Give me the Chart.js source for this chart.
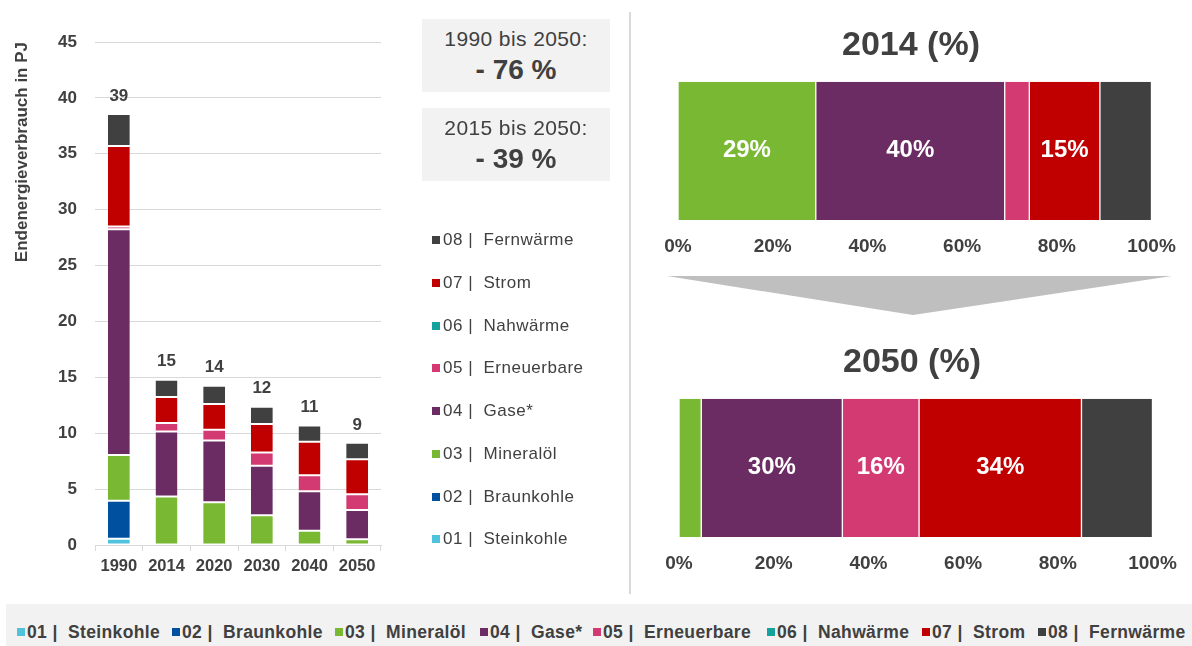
<!DOCTYPE html>
<html>
<head>
<meta charset="utf-8">
<script src="https://cdn.jsdelivr.net/npm/chart.js@4/dist/chart.umd.min.js"></script>
<style>
html,body{margin:0;padding:0;background:#fff;}
body{width:1192px;height:646px;position:relative;overflow:hidden;font-family:"Liberation Sans",Arial,sans-serif;color:#404040;}
canvas{position:absolute;}
.abs{position:absolute;}
.box{position:absolute;left:422px;width:188px;height:73px;background:#f2f2f2;}
.l1{position:absolute;left:0;width:188px;text-align:center;font-size:21px;line-height:24px;letter-spacing:0.4px;white-space:pre;}
.l2{position:absolute;left:0;width:188px;text-align:center;font-size:28px;line-height:32px;font-weight:bold;white-space:pre;}
.mleg{position:absolute;left:443px;font-size:17px;line-height:20px;letter-spacing:0.5px;white-space:pre;}
.msq{position:absolute;left:432px;width:8px;height:8px;}
.band{position:absolute;left:6px;top:604px;width:1186px;height:42px;background:#f2f2f2;}
.bleg{position:absolute;font-size:17.5px;line-height:20px;font-weight:bold;letter-spacing:0.35px;white-space:pre;top:622px;}
.bsq{position:absolute;width:8px;height:8px;top:628px;}
</style>
</head>
<body>
<canvas id="bars" width="400" height="590" style="left:0;top:0;"></canvas>
<div class="abs" style="left:629px;top:12px;width:2px;height:582px;background:#d9d9d9;"></div>
<svg class="abs" style="left:0;top:0;" width="1192" height="646"><polygon points="667,276 1172,276 913,315" fill="#bfbfbf"/></svg>
<canvas id="c2014" width="552" height="262" style="left:640px;top:0;"></canvas>
<canvas id="c2050" width="552" height="262" style="left:641px;top:317px;"></canvas>
<div id="boxes"></div>
<div id="midLegend"></div>
<div class="band"></div>
<div id="botLegend"></div>
<script>
// ---- data ----
const categories = ['1990', '2014', '2020', '2030', '2040', '2050'];
const seriesCodes = ['01', '02', '03', '04', '05', '06', '07', '08'];
const seriesNames = ['Steinkohle', 'Braunkohle', 'Mineralöl', 'Gase*', 'Erneuerbare', 'Nahwärme', 'Strom', 'Fernwärme'];
const seriesColors = ['#4fc3dc', '#0050a0', '#78b832', '#6b2c63', '#d43a72', '#13a29c', '#c00000', '#404040'];

const steinkohle  = [0.55, 0, 0, 0, 0, 0];
const braunkohle  = [3.4, 0, 0, 0, 0, 0];
const mineraloel  = [4.1, 4.33, 3.83, 2.66, 1.28, 0.51];
const gase        = [20.2, 5.83, 5.52, 4.42, 3.53, 2.63];
const erneuerbare = [0.25, 0.75, 0.96, 1.19, 1.44, 1.4];
const nahwaerme   = [0, 0, 0, 0, 0, 0];
const strom       = [7.2, 2.33, 2.3, 2.55, 2.98, 3.14];
const fernwaerme  = [2.85, 1.55, 1.64, 1.55, 1.46, 1.46];
const seriesValues = [steinkohle, braunkohle, mineraloel, gase, erneuerbare, nahwaerme, strom, fernwaerme];

const yTicks = [0, 5, 10, 15, 20, 25, 30, 35, 40, 45];

// shares (%) of the two 100% bars
const share2014 = [0, 0, 29.1, 39.9, 5.2, 0, 14.9, 10.9];
const share2050 = [0, 0, 4.7, 29.8, 16.2, 0, 34.3, 15.0];
const pctLabels2014 = ['', '', '29%', '40%', '', '', '15%', ''];
const pctLabels2050 = ['', '', '', '30%', '16%', '', '34%', ''];
const pctTicks = [0, 20, 40, 60, 80, 100];

const boxTexts = [['1990 bis 2050:', '- 76 %'], ['2015 bis 2050:', '- 39 %']];

// ---- setup ----
const FONT = '"Liberation Sans", Arial, sans-serif';
Chart.defaults.font.family = FONT;
Chart.defaults.color = '#404040';
Chart.defaults.animation = false;

const skipZero = arr => arr.map(v => (v === 0 ? null : v));

const totalsPlugin = {
  id: 'totals',
  afterDatasetsDraw(chart) {
    const {ctx, scales: {x, y}} = chart;
    ctx.save();
    ctx.font = 'bold 17px ' + FONT;
    ctx.fillStyle = '#404040';
    ctx.textAlign = 'center';
    ctx.textBaseline = 'middle';
    categories.forEach((c, i) => {
      const total = chart.data.datasets.reduce((s, d) => s + (d.data[i] || 0), 0);
      ctx.fillText(String(Math.round(total)), x.getPixelForValue(i), y.getPixelForValue(total) - 18);
    });
    ctx.restore();
  }
};

new Chart(document.getElementById('bars'), {
  type: 'bar',
  data: {
    labels: categories,
    datasets: seriesNames.map((n, i) => ({
      label: seriesCodes[i] + ' | ' + n,
      data: skipZero(seriesValues[i]),
      backgroundColor: seriesColors[i],
      borderColor: '#ffffff',
      borderWidth: {top: 1, bottom: 1, left: 0, right: 0},
      borderSkipped: false,
      barPercentage: 0.46,
      categoryPercentage: 1.0
    }))
  },
  options: {
    responsive: false,
    devicePixelRatio: 1,
    layout: {padding: {top: 42, right: 19, left: 0, bottom: 0}},
    plugins: {legend: {display: false}, tooltip: {enabled: false}},
    scales: {
      x: {
        stacked: true,
        offset: true,
        grid: {display: true, drawOnChartArea: false, drawTicks: true, tickLength: 6, color: '#d9d9d9', offset: true},
        border: {display: true, color: '#d9d9d9', width: 1},
        ticks: {padding: 6, font: {size: 16.5, weight: 'bold'}, color: '#404040'},
        afterFit: s => { s.height = 45; }
      },
      y: {
        stacked: true,
        min: yTicks[0],
        max: yTicks[yTicks.length - 1],
        afterBuildTicks: s => { s.ticks = yTicks.map(v => ({value: v})); },
        ticks: {padding: 18, font: {size: 17, weight: 'bold'}, color: '#404040'},
        grid: {color: '#d9d9d9', drawTicks: false, lineWidth: 1},
        border: {display: false},
        title: {display: true, text: 'Endenergieverbrauch in PJ', align: 'end', font: {size: 17, weight: 'bold'}, color: '#404040', padding: {top: 12, bottom: 0}},
        afterFit: s => { s.width = 95; }
      }
    }
  },
  plugins: [totalsPlugin]
});

const pctPlugin = {
  id: 'pct',
  afterDatasetsDraw(chart, args, opts) {
    const ctx = chart.ctx;
    ctx.save();
    ctx.font = 'bold 24px ' + FONT;
    ctx.fillStyle = '#ffffff';
    ctx.textAlign = 'center';
    ctx.textBaseline = 'middle';
    chart.data.datasets.forEach((ds, i) => {
      const txt = opts.labels[i];
      if (!txt) return;
      const el = chart.getDatasetMeta(i).data[0];
      const p = el.getProps(['x', 'y', 'base'], true);
      ctx.fillText(txt, (p.x + p.base) / 2, p.y);
    });
    ctx.restore();
  }
};

function shareChart(id, title, shares, labels) {
  return new Chart(document.getElementById(id), {
    type: 'bar',
    data: {
      labels: [title],
      datasets: seriesNames.map((n, i) => ({
        label: n,
        data: skipZero([shares[i]]),
        backgroundColor: seriesColors[i],
        borderColor: '#ffffff',
        borderWidth: {top: 0, bottom: 0, left: 1, right: 1},
        borderSkipped: false,
        barPercentage: 1,
        categoryPercentage: 1
      }))
    },
    options: {
      indexAxis: 'y',
      responsive: false,
      devicePixelRatio: 1,
      layout: {padding: {left: 30.5, right: 40.5, top: 0, bottom: 2}},
      plugins: {
        legend: {display: false},
        tooltip: {enabled: false},
        title: {display: true, text: title + ' (%)', font: {size: 34, weight: 'bold'}, color: '#404040', padding: {top: 25.6, bottom: 15.3}},
        pct: {labels: labels}
      },
      scales: {
        x: {
          stacked: true,
          min: pctTicks[0],
          max: pctTicks[pctTicks.length - 1],
          afterBuildTicks: s => { s.ticks = pctTicks.map(v => ({value: v})); },
          grid: {display: false, drawTicks: false},
          border: {display: false},
          ticks: {padding: 15.3, font: {size: 19, weight: 'bold'}, color: '#404040', callback: v => v + '%'},
          afterFit: s => { s.height = 40; }
        },
        y: {
          stacked: true,
          grid: {display: false, drawTicks: false},
          border: {display: false},
          ticks: {display: false},
          afterFit: s => { s.width = 7.5; }
        }
      }
    },
    plugins: [pctPlugin]
  });
}
shareChart('c2014', '2014', share2014, pctLabels2014);
shareChart('c2050', '2050', share2050, pctLabels2050);

// ---- text boxes ----
const boxesEl = document.getElementById('boxes');
const boxTops = [19, 108];
boxTexts.forEach((t, i) => {
  const b = document.createElement('div');
  b.className = 'box';
  b.style.top = boxTops[i] + 'px';
  const a = document.createElement('div');
  a.className = 'l1'; a.style.top = '8px'; a.textContent = t[0];
  const c = document.createElement('div');
  c.className = 'l2'; c.style.top = '35px'; c.textContent = t[1];
  b.appendChild(a); b.appendChild(c);
  boxesEl.appendChild(b);
});

// ---- middle legend (08 on top) ----
const mid = document.getElementById('midLegend');
for (let k = 0; k < 8; k++) {
  const i = 7 - k;
  const cy = 240 + k * 42.75;
  const sq = document.createElement('div');
  sq.className = 'msq';
  sq.style.top = (cy - 4) + 'px';
  sq.style.background = seriesColors[i];
  const tx = document.createElement('div');
  tx.className = 'mleg';
  tx.style.top = (cy - 10) + 'px';
  tx.textContent = seriesCodes[i] + ' |  ' + seriesNames[i];
  mid.appendChild(sq); mid.appendChild(tx);
}

// ---- bottom legend ----
const bot = document.getElementById('botLegend');
const botLeft = [17, 172, 335, 480, 593, 767, 922, 1038];
seriesNames.forEach((n, i) => {
  const sq = document.createElement('div');
  sq.className = 'bsq';
  sq.style.left = botLeft[i] + 'px';
  sq.style.background = seriesColors[i];
  const tx = document.createElement('div');
  tx.className = 'bleg';
  tx.style.left = (botLeft[i] + 10) + 'px';
  tx.textContent = seriesCodes[i] + ' |  ' + n;
  bot.appendChild(sq); bot.appendChild(tx);
});
</script>
</body>
</html>
